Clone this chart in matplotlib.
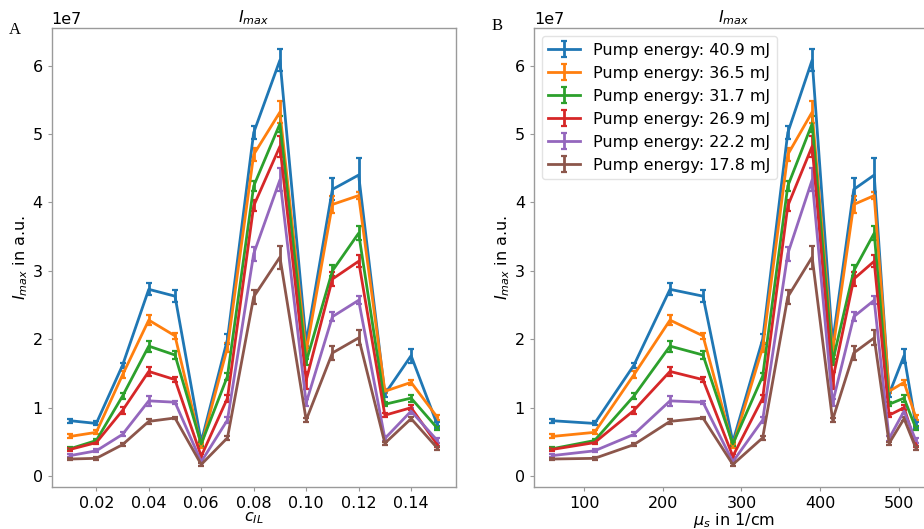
import matplotlib
matplotlib.use("Agg")
import matplotlib.pyplot as plt
import numpy as np

SCALE = 1e7
c_il = [0.01, 0.02, 0.03, 0.04, 0.05, 0.06, 0.07, 0.08, 0.09, 0.10, 0.11, 0.12, 0.13, 0.14, 0.15]
mu_s = [59, 113, 163, 209, 251, 289, 327, 359, 390, 416, 443, 469, 488, 507, 522]

labels = ["Pump energy: 40.9 mJ", "Pump energy: 36.5 mJ", "Pump energy: 31.7 mJ",
          "Pump energy: 26.9 mJ", "Pump energy: 22.2 mJ", "Pump energy: 17.8 mJ"]

e409 = [0.81, 0.77, 1.62, 2.73, 2.63, 0.50, 2.00, 5.02, 6.08, 1.95, 4.19, 4.40, 1.20, 1.76, 0.75]
e365 = [0.58, 0.64, 1.48, 2.28, 2.05, 0.44, 1.88, 4.70, 5.32, 1.82, 3.97, 4.10, 1.24, 1.37, 0.86]
e317 = [0.40, 0.52, 1.17, 1.90, 1.77, 0.47, 1.46, 4.24, 5.15, 1.67, 3.00, 3.55, 1.05, 1.14, 0.70]
e269 = [0.39, 0.49, 0.96, 1.53, 1.41, 0.29, 1.14, 3.95, 4.82, 1.40, 2.88, 3.14, 0.89, 1.00, 0.46]
e222 = [0.30, 0.37, 0.61, 1.10, 1.08, 0.21, 0.82, 3.25, 4.33, 1.07, 2.33, 2.57, 0.55, 0.95, 0.52]
e178 = [0.25, 0.26, 0.46, 0.80, 0.85, 0.17, 0.56, 2.62, 3.20, 0.82, 1.80, 2.02, 0.48, 0.84, 0.41]

err409 = [0.03, 0.03, 0.04, 0.09, 0.09, 0.03, 0.07, 0.10, 0.16, 0.05, 0.16, 0.25, 0.05, 0.10, 0.04]
err365 = [0.03, 0.03, 0.05, 0.07, 0.04, 0.03, 0.07, 0.10, 0.16, 0.05, 0.12, 0.05, 0.03, 0.04, 0.04]
err317 = [0.02, 0.02, 0.04, 0.08, 0.06, 0.03, 0.05, 0.07, 0.12, 0.04, 0.08, 0.10, 0.03, 0.05, 0.03]
err269 = [0.02, 0.02, 0.05, 0.06, 0.04, 0.03, 0.05, 0.08, 0.15, 0.12, 0.10, 0.09, 0.03, 0.04, 0.03]
err222 = [0.02, 0.02, 0.03, 0.07, 0.02, 0.02, 0.04, 0.10, 0.17, 0.05, 0.07, 0.06, 0.03, 0.04, 0.03]
err178 = [0.02, 0.02, 0.02, 0.04, 0.02, 0.02, 0.03, 0.10, 0.17, 0.03, 0.10, 0.11, 0.02, 0.03, 0.03]

series = [e409, e365, e317, e269, e222, e178]
errors = [err409, err365, err317, err269, err222, err178]
colors = ["#1f77b4", "#ff7f0e", "#2ca02c", "#d62728", "#9467bd", "#8c564b"]

FS = 11.5
plt.rcParams["font.family"] = ["DejaVu Sans"]
plt.rcParams["font.size"] = FS

fig = plt.figure(figsize=(9.24, 5.29), dpi=100)
W, H = 924, 529
axA = fig.add_axes([51.7 / W, (H - 486.7) / H, 404 / W, 458.4 / H])
axB = fig.add_axes([534 / W, (H - 486.7) / H, 400 / W, 458.4 / H])

for ax, x in ((axA, c_il), (axB, mu_s)):
    for vals, err, col, lab in zip(series, errors, colors, labels):
        ax.errorbar(x, np.array(vals) * SCALE, yerr=np.array(err) * SCALE,
                    color=col, lw=2.0, elinewidth=2.0, capsize=2.5, capthick=1.6,
                    label=lab)
    ax.set_title("$I_{max}$", fontsize=FS, pad=4)
    ax.set_ylabel("$I_{max}$ in a.u.", fontsize=FS, labelpad=2)
    for s in ax.spines.values():
        s.set_color("#9a9a9a")
        s.set_linewidth(1.0)
    ax.tick_params(colors="#9a9a9a", labelcolor="black", labelsize=FS, length=3)
    ax.yaxis.get_offset_text().set_fontsize(FS)
    ax.set_yticks([0, 1e7, 2e7, 3e7, 4e7, 5e7, 6e7])

axA.set_xlabel("$c_{IL}$", fontsize=FS, labelpad=0)
axA.set_xticks([0.02, 0.04, 0.06, 0.08, 0.10, 0.12, 0.14])
axA.set_xticklabels(["0.02", "0.04", "0.06", "0.08", "0.10", "0.12", "0.14"])
axB.set_xlabel("$\\mu_s$ in 1/cm", fontsize=FS, labelpad=0)
axB.set_xticks([100, 200, 300, 400, 500])

axB.legend(loc="upper left", fontsize=FS, frameon=True, framealpha=0.8,
           edgecolor="#dddddd", borderaxespad=0.5)

fig.text(15 / W, 1 - 30 / H, "A", family="Liberation Serif", fontsize=12, ha="center", va="center")
fig.text(497 / W, 1 - 26 / H, "B", family="Liberation Serif", fontsize=12, ha="center", va="center")

fig.savefig("out.png", dpi=100)
